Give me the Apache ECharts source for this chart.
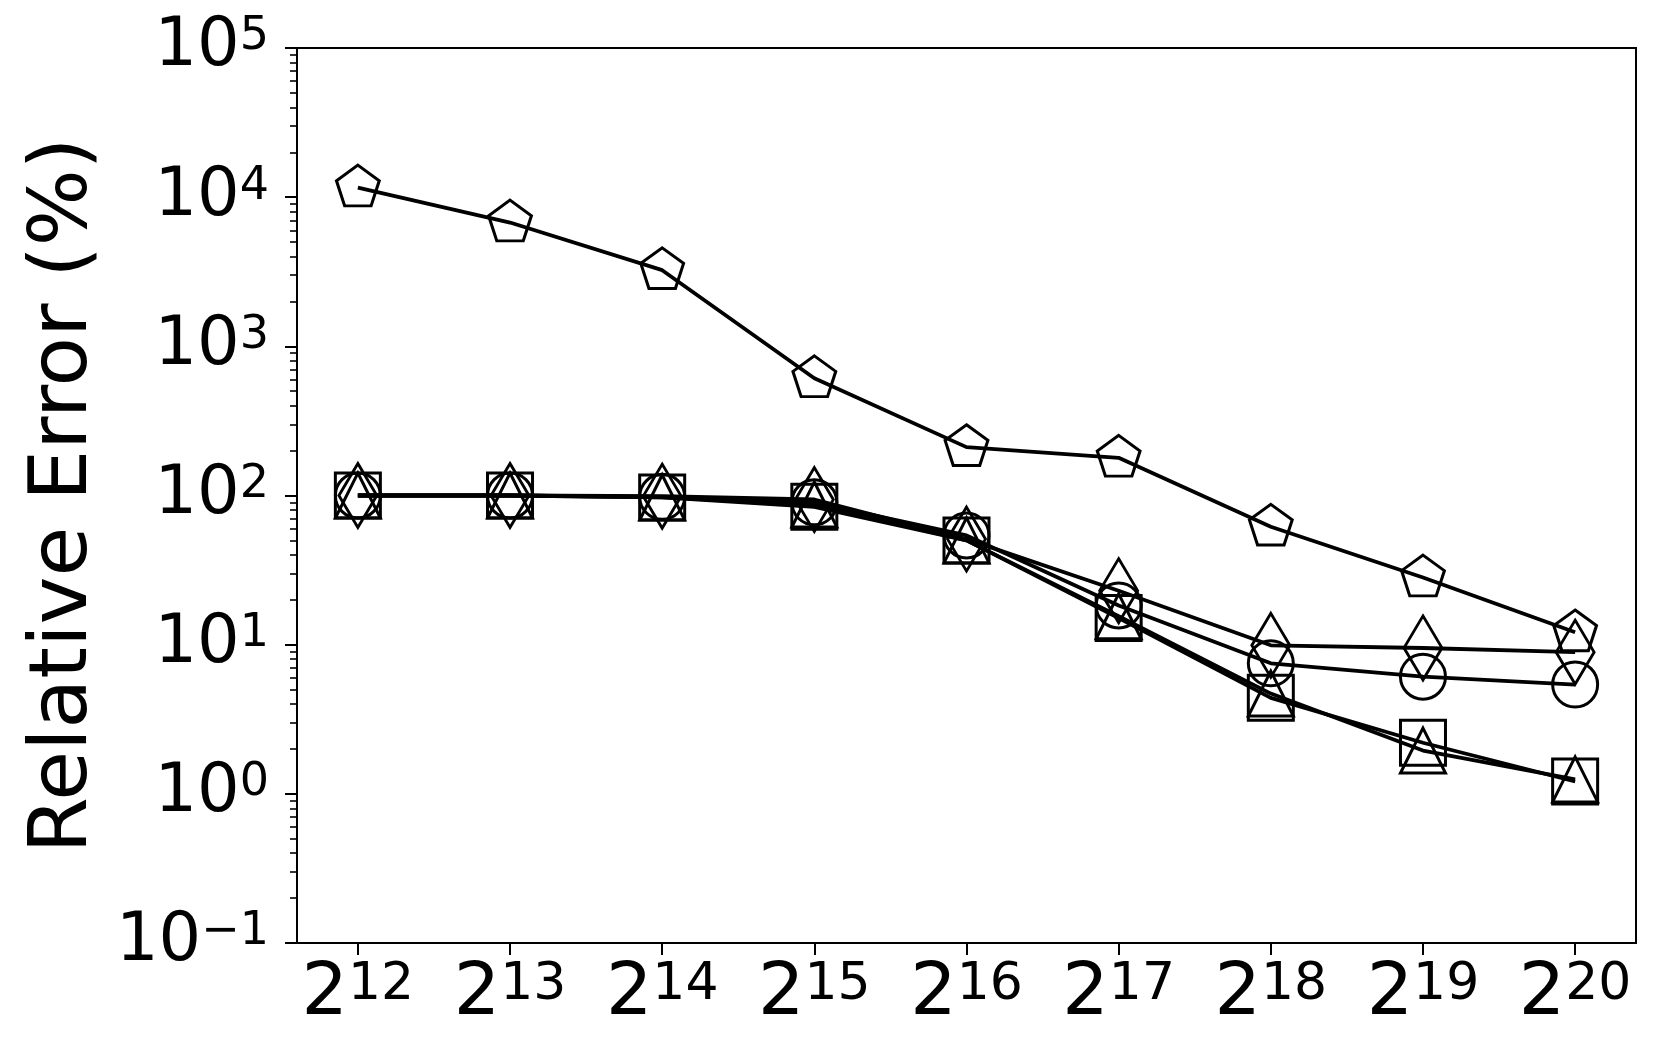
<!DOCTYPE html>
<html>
<head>
<meta charset="utf-8">
<script src="https://cdn.jsdelivr.net/npm/echarts@6/dist/echarts.min.js"></script>
<style>
html, body { margin: 0; padding: 0; background: #fff; }
#chart { width: 1660px; height: 1062px; }
</style>
</head>
<body>
<div id="chart"></div>
<script>
// x = 2^n, n
const exponents = [12, 13, 14, 15, 16, 17, 18, 19, 20]

// relative error (%) per series
const pentagonErr = [11600, 6760, 3240, 611, 211, 179, 61.8, 28.2, 12.1]
const diamondErr = [100, 100, 99, 94, 51, 23, 9.9, 9.5, 8.9]
const circleErr = [100, 100, 98, 90, 54, 18.3, 7.5, 6.1, 5.4]
const squareErr = [100, 100, 97, 84, 50, 15.1, 4.4, 2.2, 1.21]
const triangleErr = [100, 100, 97, 87, 50, 15.5, 4.7, 1.95, 1.25]

// y decades shown on the axis
const yMin = 0.1
const yMax = 100000
const minorMults = [2, 3, 4, 5, 6, 7, 8, 9]

const FONT = "'DejaVu Sans', sans-serif"
const PENTAGON = 'path://M0,-1 L0.951,-0.309 L0.588,0.809 L-0.588,0.809 L-0.951,-0.309 Z'

// minor tick positions (log10 space) for the decoration axis
const minorTickPos = []
for (let k = Math.log10(yMin); k < Math.log10(yMax); k++) {
    minorMults.forEach(m => minorTickPos.push(k + Math.log10(m)))
}

const sup = (base, e) => `{b|${base}}{s|${e}}`

const mkSeries = (name, values, symbol, size, offset) => ({
    name,
    type: 'line',
    data: exponents.map((n, i) => [n, values[i]]),
    symbol,
    symbolSize: size,
    symbolOffset: offset || [0, 0],
    showAllSymbol: true,
    lineStyle: { color: '#000', width: 3.8, join: 'round' },
    itemStyle: { color: 'rgba(0,0,0,0)', borderColor: '#000', borderWidth: 3 },
    emphasis: { disabled: true },
    animation: false,
    z: 3
})

const chart = echarts.init(document.getElementById('chart'))

chart.setOption({
    animation: false,
    textStyle: { fontFamily: FONT, color: '#000' },
    grid: { left: 297, right: 24, top: 48, bottom: 119, show: true, borderColor: '#000', borderWidth: 2, backgroundColor: 'transparent' },
    xAxis: {
        type: 'value',
        min: 11.6,
        max: 20.4,
        axisLine: { onZero: false, lineStyle: { color: '#000', width: 2 } },
        axisTick: { show: true, length: 12, lineStyle: { color: '#000', width: 2 }, customValues: exponents },
        axisLabel: {
            customValues: exponents,
            margin: 16,
            formatter: v => sup(2, v),
            rich: {
                b: { fontSize: 73, lineHeight: 73, fontFamily: FONT, color: '#000' },
                s: { fontSize: 52, lineHeight: 32, verticalAlign: 'top', fontFamily: FONT, color: '#000' }
            }
        },
        splitLine: { show: false }
    },
    yAxis: [
        {
            type: 'log',
            logBase: 10,
            min: yMin,
            max: yMax,
            position: 'left',
            name: 'Relative Error (%)',
            nameLocation: 'middle',
            nameGap: 191,
            nameTextStyle: { fontSize: 81, fontFamily: FONT, color: '#000' },
            axisLine: { show: true, onZero: false, lineStyle: { color: '#000', width: 2 } },
            axisTick: { show: true, length: 12, lineStyle: { color: '#000', width: 2 } },
            axisLabel: {
                margin: 28,
                formatter: v => {
                    const e = Math.round(Math.log10(v))
                    return sup(10, e < 0 ? '\u2212' + (-e) : e)
                },
                rich: {
                    b: { fontSize: 67, lineHeight: 67, fontFamily: FONT, color: '#000' },
                    s: { fontSize: 46, lineHeight: 30, verticalAlign: 'top', fontFamily: FONT, color: '#000' }
                }
            },
            splitLine: { show: false }
        },
        {
            // minor ticks only
            type: 'value',
            position: 'left',
            offset: 0,
            min: Math.log10(yMin),
            max: Math.log10(yMax),
            axisLine: { show: false, onZero: false },
            axisTick: { show: true, length: 7, lineStyle: { color: '#000', width: 1.6 }, customValues: minorTickPos },
            axisLabel: { show: false },
            splitLine: { show: false }
        }
    ],
    series: [
        mkSeries('pentagon', pentagonErr, PENTAGON, [42.8, 40.7], [0, -2]),
        mkSeries('diamond', diamondErr, 'diamond', [38, 64]),
        mkSeries('circle', circleErr, 'circle', 45),
        mkSeries('square', squareErr, 'rect', 45),
        mkSeries('triangle', triangleErr, 'triangle', 45)
    ]
})
</script>
</body>
</html>
